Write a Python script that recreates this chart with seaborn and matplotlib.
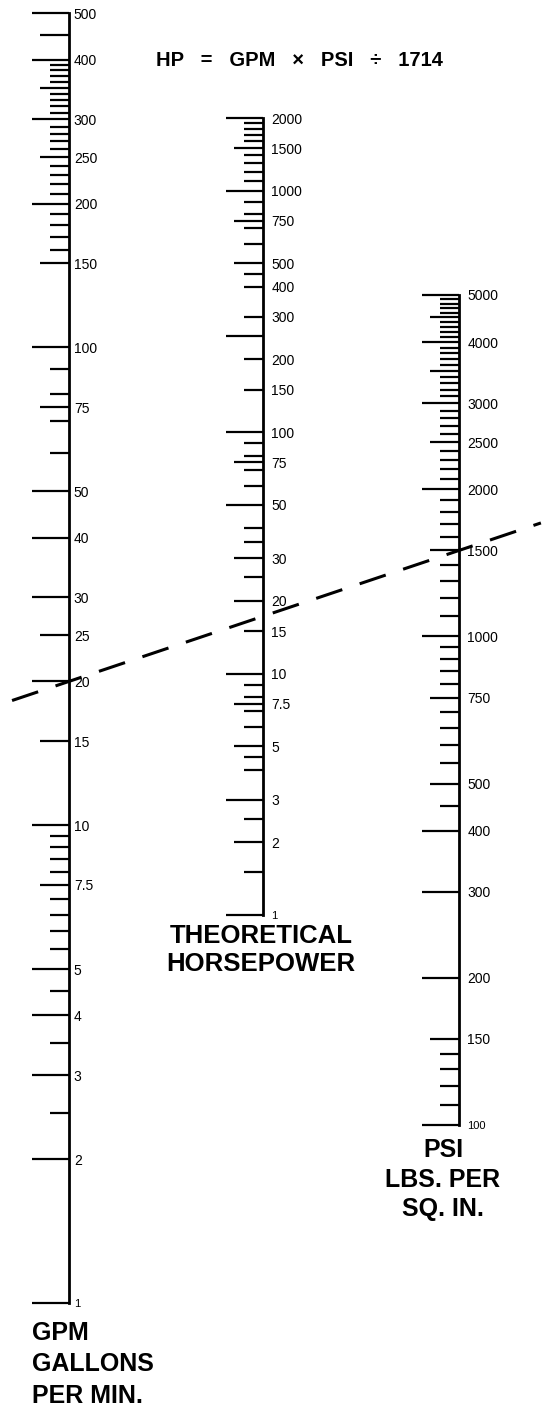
import matplotlib
matplotlib.use("Agg")
import matplotlib.pyplot as plt
import numpy as np
import seaborn as sns
from matplotlib.ticker import NullLocator

# Nomograph: HP = GPM x PSI / 1714

# GPM scale (left column)
GPM_RANGE = (1, 500)
GPM_LABELS = [1, 2, 3, 4, 5, 7.5, 10, 15, 20, 25, 30, 40, 50, 75, 100,
              150, 200, 250, 300, 400, 500]
GPM_LONG = [1, 2, 3, 4, 5, 10, 20, 30, 40, 50, 100, 200, 300, 400, 500]
GPM_MEDIUM = [7.5, 15, 25, 75, 150, 250, 350, 450]
GPM_SHORT = [2.5, 3.5, 4.5, 5.5, 6, 6.5, 7, 8, 8.5, 9, 9.5,
             60, 70, 80, 90,
             160, 170, 180, 190, 210, 220, 230, 240,
             260, 270, 280, 290, 310, 320, 330, 340,
             360, 370, 380, 390]

# theoretical horsepower scale (middle column)
HP_RANGE = (1, 2000)
HP_LABELS = [1, 2, 3, 5, 7.5, 10, 15, 20, 30, 50, 75, 100, 150, 200, 300,
             400, 500, 750, 1000, 1500, 2000]
HP_LONG = [1, 3, 10, 50, 100, 250, 1000, 2000]
HP_MEDIUM = [2, 5, 7.5, 20, 30, 75, 500, 750, 1500]
HP_SHORT = [1.5, 2.5, 4, 4.5, 6, 7, 8, 9, 15, 25, 35, 40,
            60, 70, 80, 90, 150, 200, 300, 400, 450,
            600, 700, 800, 900, 1100, 1200, 1300, 1400,
            1600, 1700, 1800, 1900]

# PSI scale (right column)
PSI_RANGE = (100, 5000)
PSI_LABELS = [100, 150, 200, 300, 400, 500, 750, 1000, 1500, 2000, 2500,
              3000, 4000, 5000]
PSI_LONG = [100, 200, 300, 400, 1000, 2000, 3000, 4000, 5000]
PSI_MEDIUM = [150, 500, 750, 1500, 2500, 3500, 4500]
PSI_SHORT = [110, 120, 130, 140, 450, 550, 600, 650, 700,
             800, 850, 900, 950,
             1100, 1200, 1300, 1400, 1600, 1700, 1800, 1900,
             2100, 2200, 2300, 2400, 2600, 2700, 2800, 2900,
             3100, 3200, 3300, 3400, 3600, 3700, 3800, 3900,
             4100, 4200, 4300, 4400, 4600, 4700, 4800, 4900]

# worked example drawn as the dashed line
EXAMPLE_GPM = 20
EXAMPLE_PSI = 1500

FIG_W, FIG_H = 551, 1408
TICK_LEN = {"long": 37, "medium": 29, "short": 19}


def px_box(spine_x, y_top, y_bottom, width=50):
    """Axes rectangle (figure fraction) whose right spine sits at spine_x px."""
    return [(spine_x - width) / FIG_W, 1 - y_bottom / FIG_H,
            width / FIG_W, (y_bottom - y_top) / FIG_H]


def draw_scale(fig, box, vrange, labels, long_t, med_t, short_t, pad):
    ax = fig.add_axes(box)
    ax.set_yscale("log")
    ax.set_ylim(*vrange)
    ax.set_xlim(0, 1)
    ax.patch.set_alpha(0)
    for side in ("left", "top", "bottom"):
        ax.spines[side].set_visible(False)
    ax.spines["right"].set_visible(True)
    ax.spines["right"].set_linewidth(2.0)
    ax.spines["right"].set_color("black")
    ax.xaxis.set_visible(False)

    ax.set_yticks(labels, [f"{v:g}" for v in labels])
    ax.yaxis.set_minor_locator(NullLocator())
    ax.tick_params(axis="y", which="both", length=0, left=False, right=False,
                   labelleft=False, labelright=True, pad=pad, labelsize=10,
                   labelcolor="black")
    ax.get_yticklabels()[0].set_fontsize(8)

    width_px = box[2] * FIG_W
    for vals, key in ((long_t, "long"), (med_t, "medium"), (short_t, "short")):
        ax.hlines(vals, 1 - TICK_LEN[key] / width_px, 1,
                  transform=ax.get_yaxis_transform(), colors="black",
                  lw=1.6, clip_on=False)
    return ax


def main():
    sns.set_theme(style="white")
    plt.rcParams["font.family"] = ["Liberation Sans", "DejaVu Sans"]

    fig = plt.figure(figsize=(FIG_W / 100, FIG_H / 100), dpi=100)

    ax_gpm = draw_scale(fig, px_box(69, 13.5, 1303), GPM_RANGE, GPM_LABELS,
                        GPM_LONG, GPM_MEDIUM, GPM_SHORT, pad=3.5)
    draw_scale(fig, px_box(263, 118, 915), HP_RANGE, HP_LABELS,
               HP_LONG, HP_MEDIUM, HP_SHORT, pad=6)
    ax_psi = draw_scale(fig, px_box(459, 295, 1125), PSI_RANGE, PSI_LABELS,
                        PSI_LONG, PSI_MEDIUM, PSI_SHORT, pad=6)

    # dashed example line: GPM 20 -> PSI 1500, crossing HP 17.5
    overlay = fig.add_axes([0, 0, 1, 1], zorder=5)
    overlay.set_xlim(0, 1)
    overlay.set_ylim(0, 1)
    overlay.axis("off")
    overlay.patch.set_visible(False)
    to_fig = fig.transFigure.inverted()
    p0 = to_fig.transform(ax_gpm.transData.transform((1, EXAMPLE_GPM)))
    p1 = to_fig.transform(ax_psi.transData.transform((1, EXAMPLE_PSI)))
    t = np.array([-0.146, 1.21])
    xs = p0[0] + t * (p1[0] - p0[0])
    ys = p0[1] + t * (p1[1] - p0[1])
    sns.lineplot(x=xs, y=ys, ax=overlay, color="black", lw=2.2,
                 linestyle=(0, (9, 6)), sort=False)

    def ftext(x, y, s, **kw):
        fig.text(x / FIG_W, 1 - y / FIG_H, s, va="center", color="black",
                 fontweight="bold", **kw)

    ftext(299, 61, "HP   =   GPM   \u00d7   PSI   \u00f7   1714",
          ha="center", fontsize=14.5)

    for y, line in zip((1333, 1364, 1396), ("GPM", "GALLONS", "PER MIN.")):
        ftext(32, y, line, ha="left", fontsize=18)
    for y, line in zip((936, 964), ("THEORETICAL", "HORSEPOWER")):
        ftext(261, y, line, ha="center", fontsize=18.5)
    for y, line in zip((1150, 1180, 1209), ("PSI", "LBS. PER", "SQ. IN.")):
        ftext(443, y, line, ha="center", fontsize=18)

    fig.savefig("out.png", dpi=100)
    plt.close(fig)


if __name__ == "__main__":
    main()
